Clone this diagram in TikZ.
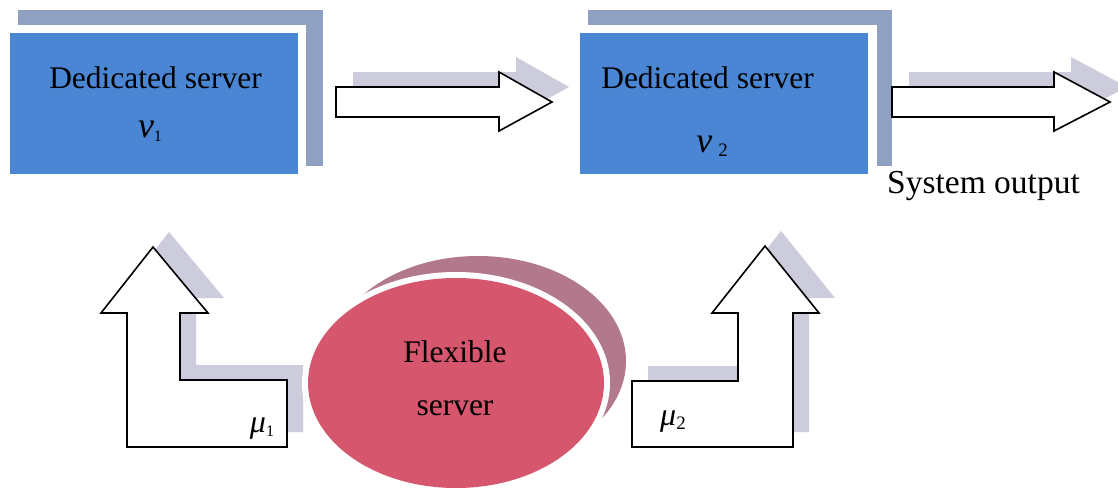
\documentclass[tikz,border=0pt]{standalone}
\usepackage{fontspec}
\setmainfont{Liberation Serif}
\usetikzlibrary{shapes.geometric}
\definecolor{boxblue}{RGB}{74,134,212}
\definecolor{barblue}{RGB}{143,160,193}
\definecolor{arrshadow}{RGB}{204,204,220}
\definecolor{flexred}{RGB}{214,86,110}
\definecolor{flexshadow}{RGB}{178,120,140}
\begin{document}
\begin{tikzpicture}[x=1pt,y=-1pt,
  lbl/.style={font=\fontsize{31.5}{36}\selectfont, inner sep=0pt},
  greek/.style={font=\fontsize{36}{40}\selectfont\itshape, inner sep=0pt},
  dedbox/.style={rectangle, fill=boxblue, minimum width=288pt, minimum height=141pt, inner sep=0pt},
  barshade/.style={fill=barblue},
  blockarrow/.style={draw=black, fill=white, line width=1.6pt, line join=miter},
  arrowshade/.style={fill=arrshadow},
  flexnode/.style={ellipse, minimum width=296pt, minimum height=210pt, inner sep=0pt}]
\useasboundingbox (0,0) rectangle (1118,490);
\fill[white] (0,0) rectangle (1118,490);

% dedicated server 1
\fill[barshade] (18,10) rectangle (323,166);
\fill[white] (2,25) rectangle (306,182);
\node[dedbox] (d1) at (154,103.5) {};
\node[lbl] (d1t) at (155.5,78) {Dedicated server};
\node[greek, anchor=base] (nu1) at (150,137) {ν\raisebox{-0.3ex}{\upshape\fontsize{16}{16}\selectfont 1}};

% dedicated server 2
\fill[barshade] (588,10) rectangle (892,166);
\fill[white] (572,25) rectangle (877,182);
\node[dedbox] (d2) at (724,103.5) {};
\node[lbl] (d2t) at (707.5,78) {Dedicated server};
\node[greek, anchor=base] (nu2) at (712,152) {ν\,\raisebox{-0.3ex}{\upshape\fontsize{19}{19}\selectfont 2}};

% arrow between servers
\begin{scope}[shift={(17,-15)}]
\fill[arrowshade] (336,87) -- (499,87) -- (499,72) -- (552,102) -- (499,131) -- (499,117) -- (336,117) -- cycle;
\end{scope}
\draw[blockarrow] (336,87) -- (499,87) -- (499,72) -- (552,102) -- (499,131) -- (499,117) -- (336,117) -- cycle;

% output arrow
\begin{scope}[shift={(17,-15)}]
\fill[arrowshade] (892,87) -- (1054,87) -- (1054,72) -- (1110,102) -- (1054,131) -- (1054,117) -- (892,117) -- cycle;
\end{scope}
\draw[blockarrow] (892,87) -- (1054,87) -- (1054,72) -- (1110,102) -- (1054,131) -- (1054,117) -- (892,117) -- cycle;
\node[font=\fontsize{33.5}{38}\selectfont, inner sep=0pt, anchor=base west] (out) at (887,193) {System output};

% up arrow 1
\begin{scope}[shift={(16,-15)}]
\fill[arrowshade] (153,247) -- (208,313) -- (180,313) -- (180,380) -- (287,380) -- (287,447) -- (127,447) -- (127,313) -- (101,313) -- cycle;
\end{scope}
\draw[blockarrow] (153,247) -- (208,313) -- (180,313) -- (180,380) -- (287,380) -- (287,447) -- (127,447) -- (127,313) -- (101,313) -- cycle;
\node[greek, font=\fontsize{32}{36}\selectfont\itshape, anchor=base] (mu1) at (262,432) {μ\raisebox{-0.3ex}{\upshape\fontsize{16}{16}\selectfont 1}};

% up arrow 2
\begin{scope}[shift={(16,-15)}]
\fill[arrowshade] (765,246) -- (819,313) -- (793,313) -- (793,447) -- (632,447) -- (632,381) -- (738,381) -- (738,313) -- (712,313) -- cycle;
\end{scope}
\draw[blockarrow] (765,246) -- (819,313) -- (793,313) -- (793,447) -- (632,447) -- (632,381) -- (738,381) -- (738,313) -- (712,313) -- cycle;
\node[greek, font=\fontsize{32}{36}\selectfont\itshape, anchor=base] (mu2) at (673,425) {μ\raisebox{-0.3ex}{\upshape\fontsize{19}{19}\selectfont 2}};

% flexible server
\node[flexnode, fill=flexshadow] (flexsh) at (478,361) {};
\node[flexnode, fill=white, minimum width=308pt, minimum height=222pt] (flexgap) at (456,383) {};
\node[flexnode, fill=flexred] (flex) at (456,383) {};
\node[lbl] (flext1) at (455,352) {Flexible};
\node[lbl] (flext2) at (455,408) {server};
\end{tikzpicture}
\end{document}
